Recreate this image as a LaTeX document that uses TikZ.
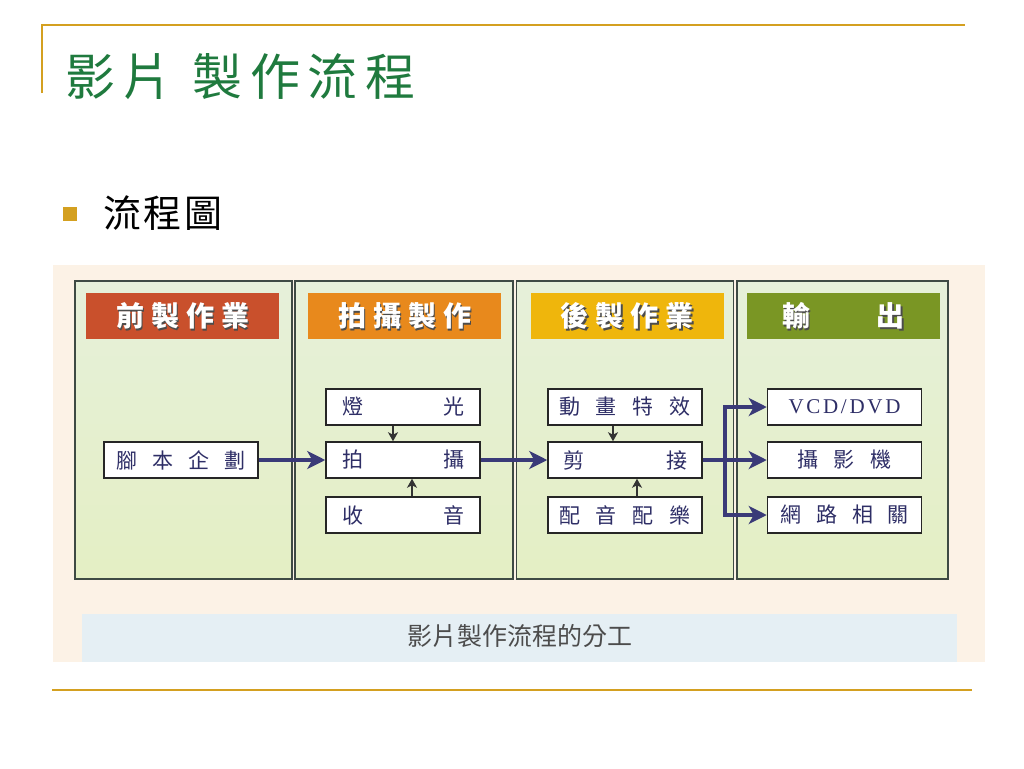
\documentclass[tikz,border=0pt]{standalone}
\usepackage{fontspec}
\setmainfont{Liberation Serif}
\newfontfamily\cjk{Noto Sans CJK TC}
\usetikzlibrary{arrows.meta}
\definecolor{gold}{HTML}{D4A020}
\definecolor{titlegreen}{HTML}{1F7A3E}
\definecolor{panel}{HTML}{FCF2E6}
\definecolor{capband}{HTML}{E5EFF4}
\definecolor{colfillA}{HTML}{E6F0DA}
\definecolor{colfillB}{HTML}{E4EFC4}
\definecolor{border}{HTML}{3E4A44}
\definecolor{navy}{HTML}{2E2E66}
\definecolor{arrnavy}{HTML}{3A3A78}
\definecolor{hdrA}{HTML}{C9502C}
\definecolor{hdrB}{HTML}{E8891C}
\definecolor{hdrC}{HTML}{EFB60C}
\definecolor{hdrD}{HTML}{7A9624}
\tikzset{
  column/.style={draw=border, line width=1.2pt, top color=colfillA, bottom color=colfillB, minimum width=#1, minimum height=298pt, inner sep=0pt},
  header/.style={fill=#1, minimum width=193pt, minimum height=46pt, inner sep=0pt},
  htext/.style={font=\cjk\bfseries\fontsize{28}{28}\selectfont, text=white, inner sep=0pt},
  hshadow/.style={font=\cjk\bfseries\fontsize{28}{28}\selectfont, text=black!70, inner sep=0pt},
  itembox/.style={draw=black!85, line width=1.5pt, fill=white, minimum width=154pt, minimum height=36pt, inner sep=0pt, font=\cjk\fontsize{21}{21}\selectfont, text=navy},
  flow/.style={draw=arrnavy, line width=4pt, -{Stealth[length=18pt,width=18pt,inset=5pt]}},
  flowline/.style={draw=arrnavy, line width=4pt},
  feed/.style={draw=black!80, line width=1.6pt, -{Stealth[length=9pt,width=10pt,inset=2.5pt]}}
}
\begin{document}
\begin{tikzpicture}[x=1pt,y=-1pt]
\useasboundingbox (0,0) rectangle (1024,768);
\fill[white] (0,0) rectangle (1024,768);
% slide frame
\draw[gold, line width=2pt] (42,93) -- (42,25) -- (965,25);
\draw[gold, line width=2.5pt] (52,690) -- (972,690);
\node[anchor=west, inner sep=0pt, text=titlegreen, font=\cjk\fontsize{50}{50}\selectfont] (title) at (65,77) {\makebox[350pt][s]{影\hfill 片\hspace{12pt}\hfill 製\hfill 作\hfill 流\hfill 程}};
\fill[gold] (63,207) rectangle (77,221);
\node[anchor=west, inner sep=0pt, font=\cjk\fontsize{38}{38}\selectfont] (sub) at (103,213) {\makebox[119pt][s]{流\hfill 程\hfill 圖}};
% diagram panel
\fill[panel] (53,265) rectangle (985,662);
\fill[capband] (82,614) rectangle (957,662);
\node[inner sep=0pt, text=black!70, font=\cjk\fontsize{25}{25}\selectfont] (cap) at (520,636) {影片製作流程的分工};
% columns
\node[column=217pt] (c1) at (183.5,430) {};
\node[column=218pt] (c2) at (404,430) {};
\node[column=217pt] (c3) at (625,430) {};
\node[column=211pt] (c4) at (842.5,430) {};
% headers
\node[header=hdrA] (h1) at (182.5,316) {};
\node[header=hdrB] (h2) at (404.5,316) {};
\node[header=hdrC] (h3) at (627,316) {};
\node[header=hdrD] (h4) at (843.5,316) {};
\node[hshadow] (h1s) at ([xshift=1.5pt,yshift=-1.5pt]h1.center) {\makebox[133pt][s]{前\hfill 製\hfill 作\hfill 業}};
\node[htext] (h1t) at (h1.center) {\makebox[133pt][s]{前\hfill 製\hfill 作\hfill 業}};
\node[hshadow] (h2s) at ([xshift=1.5pt,yshift=-1.5pt]h2.center) {\makebox[133pt][s]{拍\hfill 攝\hfill 製\hfill 作}};
\node[htext] (h2t) at (h2.center) {\makebox[133pt][s]{拍\hfill 攝\hfill 製\hfill 作}};
\node[hshadow] (h3s) at ([xshift=1.5pt,yshift=-1.5pt]h3.center) {\makebox[133pt][s]{後\hfill 製\hfill 作\hfill 業}};
\node[htext] (h3t) at (h3.center) {\makebox[133pt][s]{後\hfill 製\hfill 作\hfill 業}};
\node[hshadow] (h4s) at ([xshift=1.5pt,yshift=-1.5pt]h4.center) {\makebox[123pt][s]{輸\hfill 出}};
\node[htext] (h4t) at (h4.center) {\makebox[123pt][s]{輸\hfill 出}};
% item boxes
\node[itembox] (script) at (181,460) {\makebox[130pt][s]{腳\hfill 本\hfill 企\hfill 劃}};
\node[itembox] (light) at (403,407) {\makebox[122pt][s]{燈\hfill 光}};
\node[itembox] (shoot) at (403,460) {\makebox[122pt][s]{拍\hfill 攝}};
\node[itembox] (sound) at (403,515) {\makebox[122pt][s]{收\hfill 音}};
\node[itembox] (anim) at (625,407) {\makebox[132pt][s]{動\hfill 畫\hfill 特\hfill 效}};
\node[itembox] (edit) at (625,460) {\makebox[124pt][s]{剪\hfill 接}};
\node[itembox] (music) at (625,515) {\makebox[132pt][s]{配\hfill 音\hfill 配\hfill 樂}};
\node[itembox, font=\fontsize{21}{21}\selectfont] (vcd) at (844.5,407) {\makebox[112pt][s]{V\hfill C\hfill D\hfill /\hfill D\hfill V\hfill D}};
\node[itembox] (cam) at (844.5,460) {\makebox[95pt][s]{攝\hfill 影\hfill 機}};
\node[itembox] (net) at (844.5,515) {\makebox[129pt][s]{網\hfill 路\hfill 相\hfill 關}};
% connectors
\draw[flow] (script.east) -- (shoot.west);
\draw[flow] (shoot.east) -- (edit.west);
\draw[flow] (edit.east) -- (cam.west);
\coordinate (br) at (725,460);
\draw[flowline] (br |- vcd.west) -- (br |- net.west);
\draw[flow] ([xshift=-2pt]br |- vcd.west) -- (vcd.west);
\draw[flow] ([xshift=-2pt]br |- net.west) -- (net.west);
\draw[feed] ([xshift=-10pt]light.south) -- ([xshift=-10pt]shoot.north);
\draw[feed] ([xshift=9pt]sound.north) -- ([xshift=9pt]shoot.south);
\draw[feed] ([xshift=-12pt]anim.south) -- ([xshift=-12pt]edit.north);
\draw[feed] ([xshift=12pt]music.north) -- ([xshift=12pt]edit.south);
\end{tikzpicture}
\end{document}
